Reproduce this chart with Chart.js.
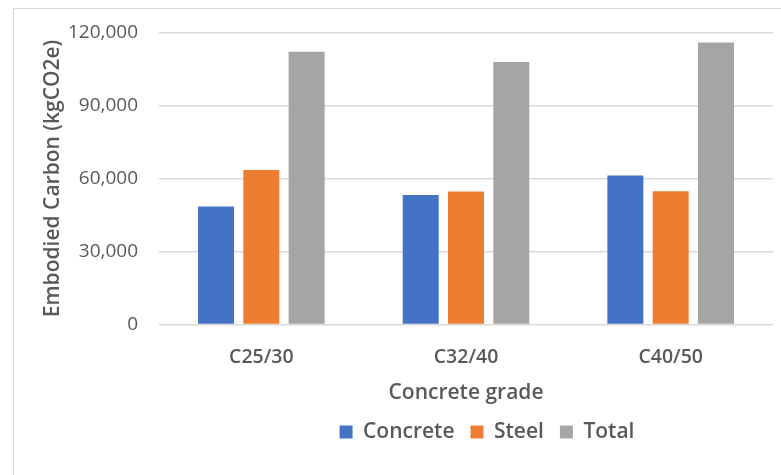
<!DOCTYPE html>
<html>
<head>
<meta charset="utf-8">
<script src="https://cdn.jsdelivr.net/npm/chart.js@4/dist/chart.umd.min.js"></script>
<style>
  html, body { margin: 0; padding: 0; background: #fff; }
  #wrap { position: relative; width: 781px; height: 475px; overflow: hidden; }
  #frame { position: absolute; left: 13px; top: 8px; width: 800px; height: 500px;
           border-left: 1px solid #d9d9d9; border-top: 1px solid #d9d9d9; box-sizing: border-box; }
  canvas { position: absolute; left: 0; top: 0; }
</style>
</head>
<body>
<div id="wrap">
  <div id="frame"></div>
  <canvas id="c" width="781" height="475"></canvas>
</div>
<script>
// Embodied carbon by concrete grade (kgCO2e)
const grades = ['C25/30', 'C32/40', 'C40/50'];
const concrete = [48500, 53200, 61200];
const steel = [63500, 54600, 54700];
const total = [112000, 107800, 115900];

const textColor = '#595959';
const gridColor = '#d9d9d9';
const fontFamily = "'Open Sans', 'Noto Sans', sans-serif";

// Fixed-height legend band, centred under the plot area
const legendPlacement = {
  id: 'legendPlacement',
  beforeLayout(chart) {
    const lg = chart.legend;
    if (lg && !lg._fixedFit) {
      const fit = lg.fit.bind(lg);
      lg.fit = function () { fit(); this.height = 69.5; };
      lg._fixedFit = true;
    }
  },
  afterLayout(chart) {
    const lg = chart.legend;
    const dx = 94;
    lg.left += dx;
    lg.right += dx;
  }
};

new Chart(document.getElementById('c'), {
  type: 'bar',
  data: {
    labels: grades,
    datasets: [
      { label: 'Concrete', data: concrete, backgroundColor: '#4472c4' },
      { label: 'Steel', data: steel, backgroundColor: '#ed7d31' },
      { label: 'Total', data: total, backgroundColor: '#a5a5a5' }
    ]
  },
  plugins: [legendPlacement],
  options: {
    responsive: false,
    animation: false,
    devicePixelRatio: 1,
    categoryPercentage: 0.664,
    barPercentage: 0.795,
    layout: { padding: { left: 13, top: 29, right: 8, bottom: 0 } },
    plugins: {
      tooltip: { enabled: false },
      legend: {
        position: 'bottom',
        labels: {
          color: textColor,
          font: { family: fontFamily, size: 21, weight: '600' },
          boxWidth: 13,
          boxHeight: 13,
          padding: 16
        }
      }
    },
    scales: {
      x: {
        afterFit: s => { s.height = 81; },
        grid: { display: false },
        border: { display: false },
        ticks: { color: textColor, padding: 13, font: { family: fontFamily, size: 19.5, weight: '600' } },
        title: {
          display: true, text: 'Concrete grade', color: textColor,
          font: { family: fontFamily, size: 21, weight: '600' },
          padding: { top: 0, bottom: 0 }
        }
      },
      y: {
        min: 0, max: 120000,
        afterFit: s => { s.width = 146; },
        grid: { color: gridColor, lineWidth: 1.5, drawTicks: false },
        border: { display: false },
        ticks: {
          stepSize: 30000, color: textColor, padding: 21,
          font: { family: fontFamily, size: 19 },
          callback: v => v.toLocaleString('en-US')
        },
        title: {
          display: true, text: 'Embodied Carbon (kgCO2e)', color: textColor,
          font: { family: fontFamily, size: 21, weight: '600' },
          padding: { top: 27, bottom: 0 }
        }
      }
    }
  }
});
</script>
</body>
</html>
